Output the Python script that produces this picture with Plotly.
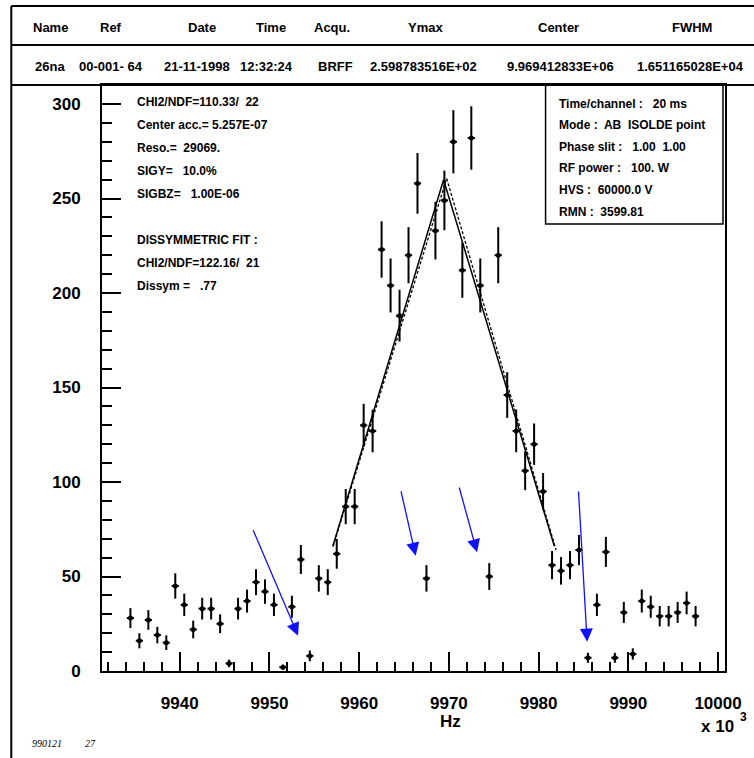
import plotly.graph_objects as go

# ---------------- data ----------------
freq_khz = [9934.5, 9935.5, 9936.5, 9937.5, 9938.5, 9939.5, 9940.5, 9941.5,
            9942.5, 9943.5, 9944.5, 9945.5, 9946.5, 9947.5, 9948.5, 9949.5,
            9950.5, 9951.5, 9952.5, 9953.5, 9954.5, 9955.5, 9956.5, 9957.5,
            9958.5, 9959.5, 9960.5, 9961.5, 9962.5, 9963.5, 9964.5, 9965.5,
            9966.5, 9967.5, 9968.5, 9969.5, 9970.5, 9971.5, 9972.5, 9973.5,
            9974.5, 9975.5, 9976.5, 9977.5, 9978.5, 9979.5, 9980.5, 9981.5,
            9982.5, 9983.5, 9984.5, 9985.5, 9986.5, 9987.5, 9988.5, 9989.5,
            9990.5, 9991.5, 9992.5, 9993.5, 9994.5, 9995.5, 9996.5, 9997.5]
counts = [28, 16, 27, 19, 15, 45, 35, 22, 33, 33, 25, 4, 33, 37, 47, 42,
          35, 2, 34, 59, 8, 49, 47, 62, 87, 87, 130, 127, 223, 204, 188, 220,
          258, 49, 233, 249, 280, 212, 282, 204, 50, 220, 146, 127, 106, 120,
          95, 56, 53, 56, 64, 7, 35, 63, 7, 31, 9, 37, 34, 29, 29, 31, 36, 29]

fit_sym_x = [9957.06, 9969.41, 9981.76]
fit_sym_y = [66.0, 259.88, 66.0]
fit_dis_x = [9957.10, 9969.75, 9981.95]
fit_dis_y = [66.0, 260.6, 64.0]

header_labels = ["Name", "Ref", "Date", "Time", "Acqu.", "Ymax", "Center", "FWHM"]
header_values = ["26na", "00-001- 64", "21-11-1998", "12:32:24", "BRFF",
                 "2.598783516E+02", "9.969412833E+06", "1.651165028E+04"]
fit_info = ["CHI2/NDF=110.33/  22", "Center acc.= 5.257E-07", "Reso.=  29069.",
            "SIGY=   10.0%", "SIGBZ=   1.00E-06", "",
            "DISSYMMETRIC FIT :", "CHI2/NDF=122.16/  21", "Dissym =   .77"]
run_info = ["Time/channel :   20 ms", "Mode :  AB  ISOLDE point",
            "Phase slit :   1.00  1.00", "RF power :   100. W",
            "HVS :  60000.0 V", "RMN :  3599.81"]

# arrows: (tail_x, tail_y, tip_x, tip_y) in data units
arrow_tail_x = [9948.11, 9964.63, 9971.11, 9984.44]
arrow_tail_y = [75.3, 95.8, 97.9, 95.8]
arrow_tip_x = [9953.19, 9966.30, 9973.14, 9985.41]
arrow_tip_y = [18.7, 61.0, 62.8, 15.5]

# ---------------- layout geometry (pixels) ----------------
W, H = 754, 758
L, R, T, B = 102, 727, 85, 671
FONT = "Liberation Sans"


def px(x):
    return (x - L) / (R - L)


def py(y):
    return (B - y) / (B - T)


fig = go.Figure()

fig.add_trace(go.Scatter(
    x=fit_sym_x, y=fit_sym_y, mode="lines",
    line=dict(color="black", width=1.5), hoverinfo="skip", showlegend=False))
fig.add_trace(go.Scatter(
    x=fit_dis_x, y=fit_dis_y, mode="lines",
    line=dict(color="black", width=1.3, dash="3px,2px"), hoverinfo="skip",
    showlegend=False))

fig.add_trace(go.Scatter(
    x=freq_khz, y=counts, mode="markers",
    marker=dict(color="black", size=5),
    error_y=dict(type="sqrt", color="black", thickness=2, width=0),
    error_x=dict(type="constant", value=0.4, color="black", thickness=2, width=0),
    showlegend=False))

ann = []
# header
hx_lab = [50, 111, 202, 272, 333, 427, 560, 694]
hx_val = [50, 111, 197, 267, 336, 425, 562, 692]
for t, x in zip(header_labels, hx_lab):
    ann.append(dict(text=t, x=px(x), y=py(27), xref="paper", yref="paper",
                    showarrow=False, xanchor="center", yanchor="middle",
                    font=dict(family=FONT, size=13, color="black", weight="bold")))
for t, x in zip(header_values, hx_val):
    ann.append(dict(text=t, x=px(x), y=py(66), xref="paper", yref="paper",
                    showarrow=False, xanchor="center", yanchor="middle",
                    font=dict(family=FONT, size=13, color="black", weight="bold")))
# fit info
for i, t in enumerate(fit_info):
    if t:
        ann.append(dict(text=t, x=px(135), y=py(102 + 23 * i), xref="paper",
                        yref="paper", showarrow=False, xanchor="left",
                        yanchor="middle",
                        font=dict(family=FONT, size=12, color="black", weight="bold")))
# run info
for i, t in enumerate(run_info):
    ann.append(dict(text=t, x=px(558), y=py(104 + 21.5 * i), xref="paper",
                    yref="paper", showarrow=False, xanchor="left",
                    yanchor="middle",
                    font=dict(family=FONT, size=12, color="black", weight="bold")))
# axis titles
ann.append(dict(text="Hz", x=px(452), y=py(721), xref="paper", yref="paper",
                showarrow=False, xanchor="center", yanchor="middle",
                font=dict(family=FONT, size=17, color="black", weight="bold")))
ann.append(dict(text="x 10", x=px(738), y=py(726), xref="paper",
                yref="paper", showarrow=False, xanchor="right", yanchor="middle",
                font=dict(family=FONT, size=17, color="black", weight="bold")))
ann.append(dict(text="3", x=px(740), y=py(717), xref="paper",
                yref="paper", showarrow=False, xanchor="left", yanchor="middle",
                font=dict(family=FONT, size=12, color="black", weight="bold")))
# footer
ann.append(dict(text="990121", x=px(30), y=py(743), xref="paper", yref="paper",
                showarrow=False, xanchor="left", yanchor="middle",
                font=dict(family="Liberation Serif", size=10, color="black",
                          style="italic")))
ann.append(dict(text="27", x=px(83), y=py(743), xref="paper", yref="paper",
                showarrow=False, xanchor="left", yanchor="middle",
                font=dict(family="Liberation Serif", size=10, color="black",
                          style="italic")))
# arrows
for tx, ty, hx, hy in zip(arrow_tail_x, arrow_tail_y, arrow_tip_x, arrow_tip_y):
    ann.append(dict(x=hx, y=hy, ax=tx, ay=ty, xref="x", yref="y",
                    axref="x", ayref="y", text="", showarrow=True,
                    arrowhead=2, arrowsize=2.0, arrowwidth=1.3,
                    arrowcolor="#1010ff", standoff=0, startstandoff=0))

shapes = []
line_k = dict(color="black", width=2)
# outer frame / header lines
shapes.append(dict(type="line", xref="paper", yref="paper",
                   x0=px(11), x1=px(760), y0=py(6), y1=py(6), line=line_k))
shapes.append(dict(type="line", xref="paper", yref="paper",
                   x0=px(11), x1=px(760), y0=py(45), y1=py(45), line=line_k))
shapes.append(dict(type="line", xref="paper", yref="paper",
                   x0=px(11), x1=px(760), y0=py(85), y1=py(85), line=line_k))
shapes.append(dict(type="line", xref="paper", yref="paper",
                   x0=px(11), x1=px(11), y0=py(6), y1=py(765), line=line_k))
# run info box
shapes.append(dict(type="rect", xref="paper", yref="paper",
                   x0=px(547), x1=px(725), y0=py(85), y1=py(224),
                   line=dict(color="black", width=1.5), fillcolor="white",
                   layer="below"))

fig.update_layout(
    width=W, height=H, autosize=False,
    margin=dict(l=L, r=W - R, t=T, b=H - B, pad=0),
    paper_bgcolor="white", plot_bgcolor="white",
    annotations=ann, shapes=shapes, showlegend=False,
    font=dict(family=FONT, color="black"),
)

fig.update_xaxes(
    range=[9931.333, 10000.778], showgrid=False, zeroline=False,
    showline=True, linecolor="black", linewidth=2, mirror=True,
    ticks="inside", ticklen=19, tickwidth=1.5, tickcolor="black",
    dtick=10, tick0=0, tickformat="d",
    minor=dict(dtick=2, tick0=0, ticks="inside", ticklen=9, tickwidth=1.5,
               tickcolor="black"),
    tickfont=dict(family=FONT, size=17, color="black", weight="bold"),
    ticklabelstandoff=16,
)
fig.update_yaxes(
    range=[0, 310.05], showgrid=False, zeroline=False,
    showline=True, linecolor="black", linewidth=2, mirror=True,
    ticks="inside", ticklen=19, tickwidth=1.5, tickcolor="black",
    dtick=50, tick0=0,
    minor=dict(dtick=10, tick0=0, ticks="inside", ticklen=10, tickwidth=1.5,
               tickcolor="black"),
    tickfont=dict(family=FONT, size=17, color="black", weight="bold"),
    ticklabelstandoff=16,
)

fig.write_html("out.html",
               config={"displayModeBar": False},
               post_script="document.body.style.margin='0px';"
                           "document.body.style.padding='0px';")
